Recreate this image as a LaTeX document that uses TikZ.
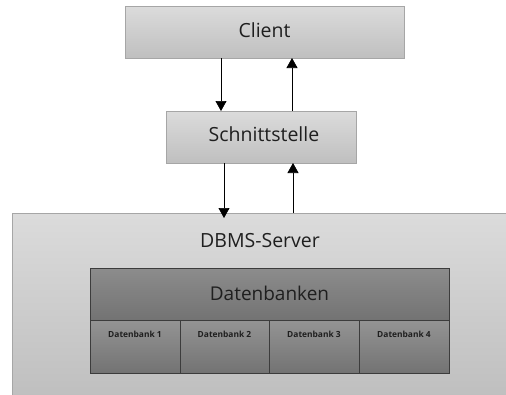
\documentclass[tikz,border=0pt]{standalone}
\usepackage{fontspec}
\setmainfont{Open Sans}[Ligatures=NoCommon]
\usetikzlibrary{arrows.meta}
\definecolor{lightedge}{HTML}{A6A6A6}
\definecolor{darkedge}{HTML}{3C3C3C}
\tikzset{
  lightbox/.style={draw=lightedge, line width=0.8pt, top color=black!14, bottom color=black!25},
  darkbox/.style={draw=darkedge, line width=0.9pt, top color=black!45, bottom color=black!55},
  cellbox/.style={draw=darkedge, line width=0.9pt, top color=black!42, bottom color=black!55},
  flow/.style={draw=black, line width=0.7pt, -{Triangle[length=10pt,width=11pt]}},
  big/.style={font=\fontsize{19.5}{22}\selectfont, text=black!88},
  small/.style={font=\bfseries\fontsize{8.4}{10}\selectfont, text=black!88},
}
\begin{document}
\begin{tikzpicture}[x=1pt,y=-1pt]
  \useasboundingbox (0,0) rectangle (506,394);
  % client and interface boxes
  \path[lightbox] (125,6) rectangle (404,58);
  \node[big] (client) at (264.5,30) {Client};
  \coordinate (clientL) at (221,58);
  \coordinate (clientR) at (292,58);
  \path[lightbox] (166,111) rectangle (356,163);
  \node[big] (iface) at (264,134) {Schnittstelle};
  \coordinate (ifaceTL) at (221,111);
  \coordinate (ifaceTR) at (292,111);
  \coordinate (ifaceBL) at (224,163);
  \coordinate (ifaceBR) at (293,163);
  % server box
  \path[lightbox] (12,213) rectangle (507,395);
  \node[big] (server) at (260,241) {DBMS-Server};
  \coordinate (serverL) at (224,213);
  \coordinate (serverR) at (293,213);
  % databases
  \path[darkbox] (90,268) rectangle (449,320);
  \node[big, font=\fontsize{19}{22}\selectfont] (dbs) at (269.5,293) {Datenbanken};
  \path[cellbox] (90,320) rectangle (180,373);
  \path[cellbox] (180,320) rectangle (269,373);
  \path[cellbox] (269,320) rectangle (359,373);
  \path[cellbox] (359,320) rectangle (449,373);
  \node[small] (db1) at (135,334) {Datenbank 1};
  \node[small] (db2) at (224.5,334) {Datenbank 2};
  \node[small] (db3) at (314,334) {Datenbank 3};
  \node[small] (db4) at (404,334) {Datenbank 4};
  % request / response arrows
  \draw[flow] (clientL) -- (ifaceTL);
  \draw[flow] (ifaceTR) -- (clientR);
  \draw[flow] (ifaceBL) -- ([yshift=-5pt]serverL);
  \draw[flow] (serverR) -- (ifaceBR);
\end{tikzpicture}
\end{document}
